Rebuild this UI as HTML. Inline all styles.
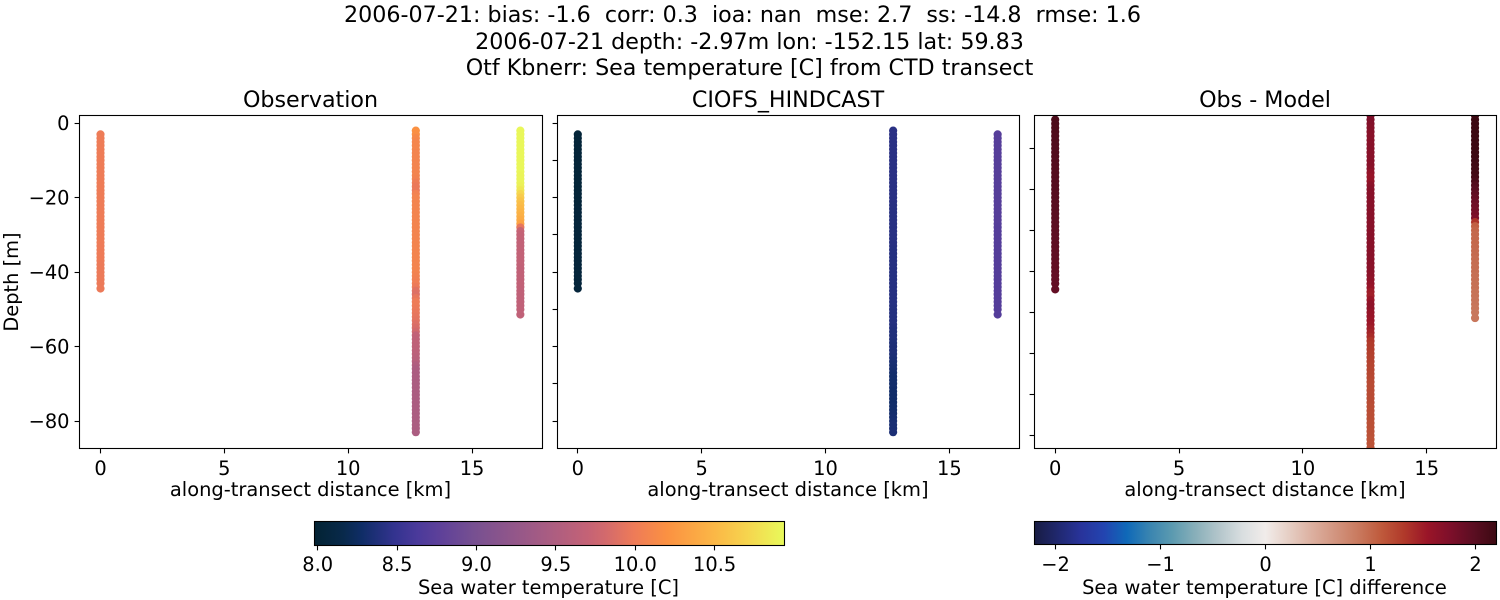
<!DOCTYPE html>
<html lang="en">
<head>
<meta charset="utf-8">
<title>Otf Kbnerr Sea temperature CTD transect</title>
<style>
html,body{margin:0;padding:0;background:#fff;}
svg{display:block;font-family:"DejaVu Sans","Liberation Sans",sans-serif;fill:#000;}
text{white-space:pre;}
</style>
</head>
<body>
<svg id="chart" xmlns="http://www.w3.org/2000/svg" width="1500" height="600" viewBox="0 0 1500 600">
  <rect width="1500" height="600" fill="#fff"/>
  <g font-size="22.2" text-anchor="middle">
    <text xml:space="preserve" x="742.5" y="22">2006-07-21: bias: -1.6  corr: 0.3  ioa: nan  mse: 2.7  ss: -14.8  rmse: 1.6</text>
    <text x="749.5" y="49">2006-07-21 depth: -2.97m lon: -152.15 lat: 59.83</text>
    <text x="749.5" y="75">Otf Kbnerr: Sea temperature [C] from CTD transect</text>
  </g>
  <defs id="defs"></defs>
  <g id="plots"></g>
</svg>
<script>
// Station distances along the transect [km]
const stationKm = [0, 12.73, 16.95];

// Depths of samples [m]
const depthA = [-3,-4,-5,-6,-7,-8,-9,-10,-11,-12,
  -13,-14,-15,-16,-17,-18,-19,-20,-21,-22,
  -23,-24,-25,-26,-27,-28,-29,-30,-31,-32,
  -33,-34,-35,-36,-37,-38,-39,-40,-41,-42,
  -43,-44.4];
const depthB = [-2,-3,-4,-5,-6,-7,-8,-9,-10,-11,
  -12,-13,-14,-15,-16,-17,-18,-19,-20,-21,
  -22,-23,-24,-25,-26,-27,-28,-29,-30,-31,
  -32,-33,-34,-35,-36,-37,-38,-39,-40,-41,
  -42,-43,-44,-45,-46,-47,-48,-49,-50,-51,
  -52,-53,-54,-55,-56,-57,-58,-59,-60,-61,
  -62,-63,-64,-65,-66,-67,-68,-69,-70,-71,
  -72,-73,-74,-75,-76,-77,-78,-79,-80,-81,
  -82,-83];
const depthC = [-2,-3,-4,-5,-6,-7,-8,-9,-10,-11,
  -12,-13,-14,-15,-16,-17,-18,-19,-20,-21,
  -22,-23,-24,-25,-26,-27,-28,-29,-30,-31,
  -32,-33,-34,-35,-36,-37,-38,-39,-40,-41,
  -42,-43,-44,-45,-46,-47,-48,-49,-50,-51.4];
const depthCModel = [-3,-4,-5,-6,-7,-8,-9,-10,-11,
  -12,-13,-14,-15,-16,-17,-18,-19,-20,-21,
  -22,-23,-24,-25,-26,-27,-28,-29,-30,-31,
  -32,-33,-34,-35,-36,-37,-38,-39,-40,-41,
  -42,-43,-44,-45,-46,-47,-48,-49,-50,-51.4];

// Observed temperature [C]
const obsA = [10,10,10,10,10,10,10,10,10,10,
  10,10,10,10,10,10,10,10,10,10,
  10,10,10,10,10,10,10,10,10,10,
  9.99,9.99,9.99,9.99,9.99,9.98,9.98,9.98,9.98,9.98,
  9.98,9.98];
const obsB = [10.2,10.18,10.12,10.1,10.1,10.1,10.08,10.08,10.08,10.08,
  10.08,10.08,10.08,10.06,10,9.97,9.97,10.05,10.08,10.08,
  10.08,10.08,10.08,10.08,10.08,10.08,10.08,10.08,10.08,10.08,
  10.08,10.08,10.08,10.08,10.08,10.08,10.08,10.08,10.08,10.06,
  10.04,10.02,9.98,9.9,9.88,9.95,10,10,9.98,9.96,
  9.94,9.92,9.88,9.85,9.8,9.68,9.66,9.65,9.64,9.63,
  9.62,9.6,9.58,9.52,9.48,9.47,9.47,9.47,9.47,9.47,
  9.47,9.47,9.47,9.47,9.47,9.47,9.47,9.47,9.47,9.47,
  9.47,9.47];
const obsC = [10.92,10.92,10.92,10.92,10.92,10.92,10.92,10.92,10.92,10.92,
  10.92,10.92,10.9,10.9,10.9,10.88,10.82,10.72,10.64,10.58,
  10.54,10.5,10.47,10.44,10.4,10.34,9.95,9.72,9.7,9.7,
  9.68,9.68,9.68,9.68,9.68,9.68,9.68,9.67,9.67,9.67,
  9.67,9.67,9.67,9.66,9.66,9.66,9.66,9.66,9.66,9.66];

// Model temperature [C]
const modA = [8.03,8.03,8.03,8.03,8.03,8.03,8.03,8.03,8.03,8.03,
  8.03,8.03,8.03,8.03,8.03,8.03,8.03,8.03,8.03,8.03,
  8.04,8.04,8.04,8.04,8.04,8.04,8.04,8.04,8.04,8.04,
  8.04,8.04,8.04,8.04,8.04,8.04,8.04,8.04,8.04,8.04,
  8.04,8.04];
const modB = [8.43,8.43,8.43,8.43,8.43,8.43,8.43,8.43,8.43,8.43,
  8.43,8.43,8.43,8.43,8.43,8.43,8.43,8.43,8.43,8.43,
  8.42,8.42,8.42,8.42,8.42,8.42,8.42,8.42,8.42,8.42,
  8.42,8.42,8.41,8.41,8.41,8.41,8.41,8.41,8.41,8.41,
  8.41,8.41,8.41,8.41,8.41,8.41,8.41,8.41,8.4,8.4,
  8.4,8.4,8.4,8.39,8.38,8.38,8.38,8.37,8.36,8.36,
  8.36,8.35,8.34,8.33,8.32,8.31,8.3,8.3,8.3,8.3,
  8.29,8.29,8.29,8.29,8.3,8.3,8.31,8.32,8.33,8.34,
  8.34,8.35];
const modC = [8.71,8.71,8.71,8.71,8.71,8.71,8.71,8.71,8.71,
  8.71,8.71,8.71,8.71,8.71,8.71,8.71,8.71,8.71,8.71,
  8.71,8.71,8.71,8.71,8.71,8.71,8.7,8.7,8.7,8.7,
  8.7,8.7,8.7,8.7,8.7,8.7,8.7,8.7,8.7,8.7,
  8.7,8.7,8.7,8.7,8.7,8.7,8.7,8.7,8.7,8.7];

// Obs - model difference [C]
const diffA = [2.08,2.08,2.07,2.07,2.06,2.06,2.06,2.05,2.05,2.05,
  2.04,2.04,2.03,2.03,2.03,2.02,2.02,2.02,2.01,2.01,
  2,2,2,1.99,1.99,1.98,1.98,1.97,1.97,1.96,
  1.96,1.96,1.95,1.95,1.95,1.94,1.94,1.94,1.93,1.93,
  1.93,1.93];
const diffB = [1.78,1.76,1.72,1.7,1.69,1.68,1.68,1.68,1.68,1.68,
  1.68,1.68,1.68,1.66,1.6,1.56,1.58,1.65,1.68,1.68,
  1.68,1.68,1.68,1.68,1.68,1.68,1.68,1.68,1.68,1.68,
  1.68,1.68,1.68,1.68,1.68,1.67,1.67,1.66,1.66,1.65,
  1.62,1.6,1.56,1.5,1.48,1.55,1.62,1.62,1.58,1.56,
  1.54,1.52,1.48,1.45,1.4,1.33,1.31,1.3,1.28,1.27,
  1.26,1.25,1.24,1.23,1.22,1.21,1.2,1.2,1.2,1.2,
  1.2,1.19,1.19,1.18,1.18,1.17,1.17,1.16,1.16,1.15,
  1.15,1.14];
const diffC = [2.18,2.2,2.2,2.2,2.2,2.2,2.2,2.2,2.2,2.2,
  2.2,2.19,2.18,2.17,2.16,2.14,2.1,2.04,2,1.96,
  1.92,1.88,1.85,1.83,1.8,1.76,1.35,1.05,1.02,1,
  1,1,0.99,0.98,0.98,0.97,0.97,0.96,0.96,0.95,
  0.95,0.94,0.94,0.93,0.93,0.92,0.92,0.91,0.9,0.9];

// Tick values and labels
const xTickValues = [0, 5, 10, 15];
const xTickLabels = ["0", "5", "10", "15"];
const yTickValuesLabelled = [0, -20, -40, -60, -80];
const yTickLabels = ["0", "\u221220", "\u221240", "\u221260", "\u221280"];
const yTickValuesModel = [0, -10, -20, -30, -40, -50, -60, -70, -80];
const yTickValuesDiff = [-10, -20, -30, -40, -50, -60, -70, -80];
const tempCbarTicks = [8.0, 8.5, 9.0, 9.5, 10.0, 10.5];
const tempCbarLabels = ["8.0", "8.5", "9.0", "9.5", "10.0", "10.5"];
const diffCbarTicks = [-2, -1, 0, 1, 2];
const diffCbarLabels = ["\u22122", "\u22121", "0", "1", "2"];

// Colour maps
const thermalStops = [[0,"#032333"],[0.06,"#08294a"],[0.1,"#0f2d66"],[0.17,"#33338f"],[0.22,"#4b3a9b"],[0.27,"#5f4199"],[0.34,"#775091"],[0.42,"#91568a"],[0.5,"#aa5d82"],[0.58,"#c46276"],[0.62,"#d36a6c"],[0.68,"#ee7b58"],[0.75,"#fb9142"],[0.85,"#fbb746"],[0.92,"#f6d44e"],[1,"#e8fa5b"]];
const balanceStops = [[0,"#181c43"],[0.05,"#20286e"],[0.1,"#28339a"],[0.15,"#2344b0"],[0.2,"#0f69b8"],[0.25,"#3a85b0"],[0.3,"#5d9bb0"],[0.35,"#8ab0ba"],[0.4,"#b4c6cb"],[0.45,"#d9dee0"],[0.5,"#f1ecea"],[0.55,"#e6cfc5"],[0.6,"#dcb0a0"],[0.65,"#d29580"],[0.7,"#c97a5f"],[0.75,"#bf5a3c"],[0.8,"#b0392a"],[0.85,"#9a1528"],[0.9,"#7d0f2a"],[0.95,"#5b0e22"],[1,"#3c0912"]];

const SVGNS = "http://www.w3.org/2000/svg";
const root = document.getElementById("plots");
const defs = document.getElementById("defs");

function make(tag, attrs, parent, text) {
  const el = document.createElementNS(SVGNS, tag);
  for (const k in attrs) el.setAttribute(k, attrs[k]);
  if (text !== undefined) el.textContent = text;
  parent.appendChild(el);
  return el;
}
function hexToRgb(h) {
  return [parseInt(h.slice(1,3),16), parseInt(h.slice(3,5),16), parseInt(h.slice(5,7),16)];
}
function cmap(stops, t) {
  t = Math.max(0, Math.min(1, t));
  for (let i = 1; i < stops.length; i++) {
    if (t <= stops[i][0]) {
      const f = (t - stops[i-1][0]) / (stops[i][0] - stops[i-1][0]);
      const a = hexToRgb(stops[i-1][1]);
      const b = hexToRgb(stops[i][1]);
      return "rgb(" + a.map((v, j) => Math.round(v + (b[j] - v) * f)).join(",") + ")";
    }
  }
  return stops[stops.length - 1][1];
}
const snap = v => Math.floor(v) + 0.5;

const TEMP_MIN = 7.98, TEMP_MAX = 10.94, DIFF_MIN = -2.2, DIFF_MAX = 2.2;
const tempColor = v => cmap(thermalStops, (v - TEMP_MIN) / (TEMP_MAX - TEMP_MIN));
const diffColor = v => cmap(balanceStops, (v - DIFF_MIN) / (DIFF_MAX - DIFF_MIN));

const TOP = 115.5, BOTTOM = 448.5;
const panels = [
  {key:"observation", title:"Observation", left:79.5, right:542.5, x0:100.5, y0:123.2, yk:3.7225, color:tempColor,
   series:[[depthA,obsA],[depthB,obsB],[depthC,obsC]], yTicks:yTickValuesLabelled, yLabels:yTickLabels},
  {key:"model", title:"CIOFS_HINDCAST", left:557.5, right:1019.5, x0:577.8, y0:123.2, yk:3.7225, color:tempColor,
   series:[[depthA,modA],[depthB,modB],[depthCModel,modC]], yTicks:yTickValuesModel, yLabels:null},
  {key:"difference", title:"Obs - Model", left:1034.5, right:1496.5, x0:1055.2, y0:107.3, yk:4.1, color:diffColor,
   series:[[depthA,diffA],[depthB,diffB],[depthC,diffC]], yTicks:yTickValuesDiff, yLabels:null}
];
const KM_PX = 24.77;

panels.forEach((p) => {
  const xScale = km => p.x0 + km * KM_PX;
  const yScale = d => p.y0 - d * p.yk;
  const clipId = "clip-" + p.key;
  const clip = make("clipPath", {id: clipId}, defs);
  make("rect", {x:p.left, y:TOP, width:p.right-p.left, height:BOTTOM-TOP}, clip);

  const g = make("g", {}, root);
  
  

  const title = make("text", {x:(p.left+p.right)/2 - 0.5, y:107, "font-size":22.2, "text-anchor":"middle"}, g, p.title);
  
  

  const marks = make("g", {"clip-path":"url(#" + clipId + ")"}, g);
  
  
  p.series.forEach((s, si) => {
    const depths = s[0], vals = s[1];
    for (let i = 0; i < depths.length; i++) {
      const c = make("circle", {cx:xScale(stationKm[si]), cy:yScale(depths[i]), r:4.1, fill:p.color(vals[i])}, marks);
      
      
    }
  });

  const frame = make("rect", {x:p.left, y:TOP, width:p.right-p.left, height:BOTTOM-TOP, fill:"none", stroke:"#000", "stroke-width":1.1}, g);
  
  

  xTickValues.forEach((v, i) => {
    const x = xScale(v);
    const t = make("line", {x1:snap(x), x2:snap(x), y1:BOTTOM, y2:BOTTOM+4.9, stroke:"#000", "stroke-width":1.1}, g);
    
    
    const l = make("text", {x:x, y:475, "font-size":19.4, "text-anchor":"middle"}, g, xTickLabels[i]);
    
    
  });
  const xl = make("text", {x:(p.left+p.right)/2 - 0.5, y:496, "font-size":19.45, "text-anchor":"middle"}, g, "along-transect distance [km]");
  
  

  p.yTicks.forEach((v, i) => {
    const y = yScale(v);
    const t = make("line", {x1:p.left-4.9, x2:p.left, y1:snap(y), y2:snap(y), stroke:"#000", "stroke-width":1.1}, g);
    
    
    if (p.yLabels) {
      const l = make("text", {x:p.left-10, y:y+7, "font-size":19.4, "text-anchor":"end"}, g, p.yLabels[i]);
      
      
    }
  });
});

const yTitle = make("text", {x:0, y:0, "font-size":19.4, "text-anchor":"middle", transform:"translate(18 282) rotate(-90)"}, root, "Depth [m]");



function colorbar(key, stops, left, right, top, bottom, vmin, vmax, ticks, labels, title, labelX) {
  const grad = make("linearGradient", {id:"grad-" + key, x1:0, x2:1, y1:0, y2:0}, defs);
  stops.forEach(s => make("stop", {offset:s[0], "stop-color":s[1]}, grad));
  const g = make("g", {}, root);
  
  
  const r = make("rect", {x:left, y:top, width:right-left, height:bottom-top, fill:"url(#grad-" + key + ")", stroke:"#000", "stroke-width":1.1}, g);
  
  
  const scale = v => left + (v - vmin) / (vmax - vmin) * (right - left);
  ticks.forEach((v, i) => {
    const x = scale(v);
    const t = make("line", {x1:snap(x), x2:snap(x), y1:bottom, y2:bottom+4.9, stroke:"#000", "stroke-width":1.1}, g);
    
    
    const l = make("text", {x:x, y:571, "font-size":19.4, "text-anchor":"middle"}, g, labels[i]);
    
    
  });
  const lab = make("text", {x:labelX, y:594, "font-size":19.45, "text-anchor":"middle"}, g, title);
  
  
}
colorbar("temperature", thermalStops, 314.5, 784.5, 521.5, 545.5, TEMP_MIN, TEMP_MAX, tempCbarTicks, tempCbarLabels, "Sea water temperature [C]", 548.5);
colorbar("difference", balanceStops, 1034.5, 1496.5, 521.5, 544.5, DIFF_MIN, DIFF_MAX, diffCbarTicks, diffCbarLabels, "Sea water temperature [C] difference", 1264.5);
</script>
</body>
</html>
